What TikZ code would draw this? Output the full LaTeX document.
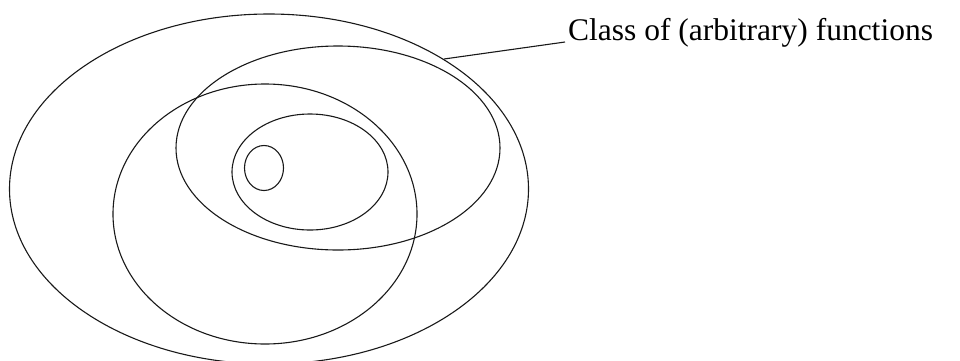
\documentclass[tikz,border=0pt]{standalone}
\usepackage{fontspec}
\setmainfont{Liberation Serif}
\usetikzlibrary{positioning}

\begin{document}
\begin{tikzpicture}[
  x=1pt, y=-1pt,
  set/.style={draw=black!90, line width=1.1pt},
  lead/.style={draw=black!90, line width=1.1pt},
  lbl/.style={font=\fontsize{31.5}{36}\selectfont, anchor=west, inner sep=0pt},
]
\useasboundingbox (0,0) rectangle (960,360);
\clip (0,0) rectangle (960,360);

% ------------------------------------------------------------------ nested classes
\draw[set] (269,189) ellipse [x radius=259.5, y radius=175];
\draw[set] (265,214) ellipse [x radius=152, y radius=130];
\draw[set] (338,148) ellipse [x radius=162, y radius=102];
\draw[set] (310,172) ellipse [x radius=78, y radius=58];
\draw[set] (264,168) ellipse [x radius=19.5, y radius=22.5];

% ------------------------------------------------------------------ label
\node[lbl] (cls) at (568,33) {Class of (arbitrary) functions};
\coordinate (tip) at (444,59);
\coordinate (end) at (565,42);
\draw[lead] (tip) -- (end);
\end{tikzpicture}
\end{document}
